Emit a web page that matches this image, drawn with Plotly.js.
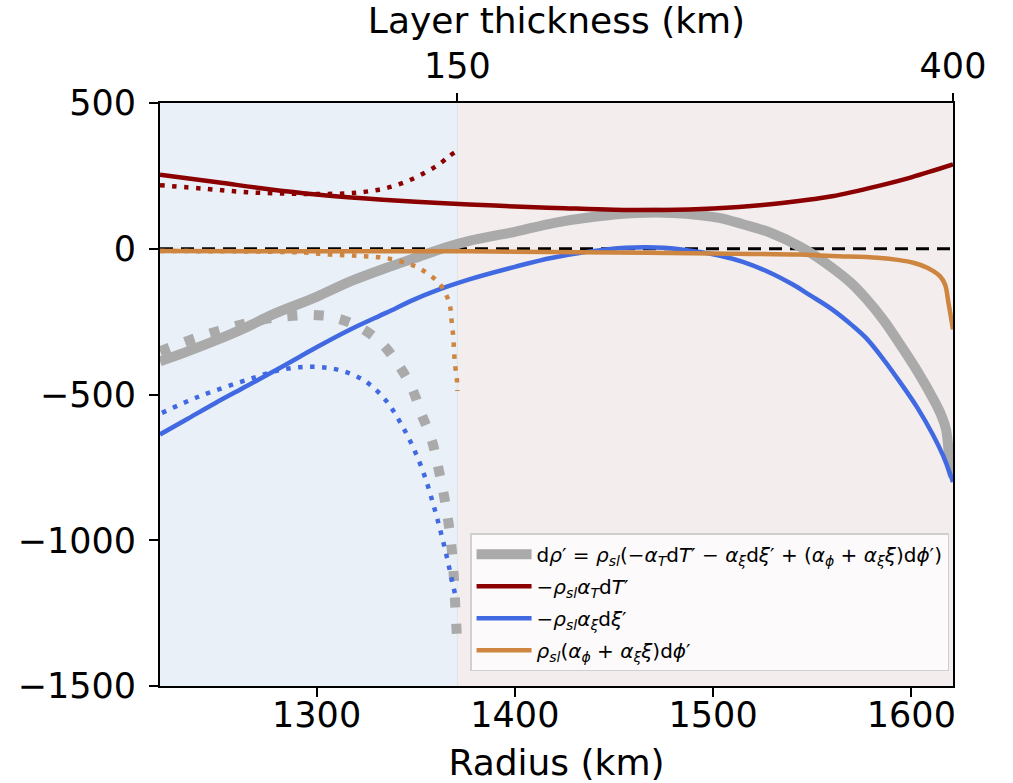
<!DOCTYPE html>
<html>
<head>
<meta charset="utf-8">
<script src="https://cdn.plot.ly/plotly-3.0.1.min.js"></script>
<style>html,body{margin:0;padding:0;background:#fff;}#chart{width:1013px;height:783px;}</style>
</head>
<body>
<div id="chart"></div>
<script>
// ---- data (radius in km, density anomaly contributions) ----
const innerRadius = 1221;
const layerEdge = 1371;      // radius at 150 km thickness
const outerRadius = 1621;

// total (thick gray), solid = 400 km layer
const grayR = [1221, 1233, 1250, 1265, 1278, 1300, 1317, 1335, 1350, 1365, 1377, 1390, 1400, 1420, 1440, 1461, 1480, 1503, 1515, 1529, 1545, 1560, 1570, 1577, 1586, 1594, 1603, 1611, 1615, 1617.5, 1619.5, 1621];
const grayV = [-386, -357, -312, -268, -225, -165, -112, -66, -31, 4, 27, 45, 58, 89, 110, 123, 123, 106, 84, 55, 3, -65, -120, -170, -245, -325, -420, -515, -570, -620, -740, -780];
// total, dotted = 150 km layer
const grayDotR = [1221, 1237, 1250, 1265, 1278, 1292, 1300, 1307, 1320, 1332, 1341, 1348, 1353, 1358, 1361.5, 1364.3, 1366.6, 1368.3, 1369.3, 1370, 1370.8];
const grayDotV = [-352, -311, -283, -255, -237, -228, -228, -233, -263, -319, -395, -477, -569, -655, -755, -849, -944, -1040, -1137, -1234, -1335];

// thermal term
const redR = [1221, 1250, 1275, 1300, 1325, 1350, 1377, 1400, 1425, 1450, 1475, 1500, 1525, 1549, 1560, 1583, 1600, 1621];
const redV = [254, 228, 205, 186, 172, 161, 152, 145, 139, 134, 133, 138, 150, 169, 180, 215, 245, 289];
const redDotR = [1221, 1245, 1265, 1285, 1300, 1315, 1325, 1335, 1345, 1355, 1362, 1367, 1370];
const redDotV = [218, 205, 194, 189, 188, 190, 196, 208, 230, 262, 291, 318, 332];

// compositional term
const blueR = [1221, 1235, 1249, 1265, 1283, 1300, 1317, 1335, 1350, 1365, 1377, 1400, 1419, 1445, 1466, 1485, 1503, 1515, 1529, 1540, 1549, 1560, 1570, 1577, 1586, 1594, 1603, 1611, 1616, 1621];
const blueV = [-637, -583, -529, -470, -403, -338, -277, -220, -172, -132, -105, -62, -31, -3, 5, -3, -23, -45, -83, -122, -160, -208, -262, -305, -380, -455, -545, -640, -710, -800];
const blueDotR = [1222, 1241, 1268, 1283, 1297, 1310, 1323.5, 1334.5, 1342.3, 1348.8, 1354.2, 1358.4, 1362.2, 1365.6, 1368.6, 1370.3];
const blueDotV = [-563, -506, -443, -414, -405, -414, -450, -517, -597, -683, -774, -866, -961, -1055, -1148, -1198];

// porosity term
const orangeR = [1221, 1300, 1377, 1400, 1450, 1500, 1544, 1560, 1583, 1594, 1601, 1608, 1614.4, 1617, 1618.7, 1621];
const orangeV = [-8, -9, -9, -10, -13, -16, -20, -25, -31, -39, -48, -65, -94, -123, -185, -277];
const orangeDotR = [1221, 1260, 1293, 1307, 1322, 1336, 1349.6, 1355.5, 1361.4, 1365.3, 1367.3, 1368.1, 1368.9, 1369.3, 1369.8, 1370.7, 1371];
const orangeDotV = [-8, -9, -13, -20, -25, -33, -60, -83, -115, -157, -197, -248, -300, -346, -397, -443, -488];

const xTicks = [1300, 1400, 1500, 1600];
const yTicks = [-1500, -1000, -500, 0, 500];
const thickTicks = [150, 400];

const legendNames = [
  'd<i>ρ</i>′ = <i>ρ</i><sub><i>sl</i></sub>(−<i>α</i><sub><i>T</i></sub>d<i>T</i>′ − <i>α</i><sub><i>ξ</i></sub>d<i>ξ</i>′ + (<i>α</i><sub><i>ϕ</i></sub> + <i>α</i><sub><i>ξ</i></sub><i>ξ</i>)d<i>ϕ</i>′)',
  '−<i>ρ</i><sub><i>sl</i></sub><i>α</i><sub><i>T</i></sub>d<i>T</i>′',
  '−<i>ρ</i><sub><i>sl</i></sub><i>α</i><sub><i>ξ</i></sub>d<i>ξ</i>′',
  '<i>ρ</i><sub><i>sl</i></sub>(<i>α</i><sub><i>ϕ</i></sub> + <i>α</i><sub><i>ξ</i></sub><i>ξ</i>)d<i>ϕ</i>′'
];

const GRAY = '#aaaaaa', RED = '#8b0000', BLUE = '#4169e1', ORANGE = '#cd853f';

function line(x, y, color, width, dash, name, show, group) {
  return {x: x, y: y, type: 'scatter', mode: 'lines', name: name || '', showlegend: !!show,
          legendgroup: group, hoverinfo: 'skip',
          line: {color: color, width: width, dash: dash || 'solid', shape: 'spline', smoothing: 1}};
}

const zeroLine = {x: [innerRadius, outerRadius], y: [0, 0], type: 'scatter', mode: 'lines', showlegend: false,
  hoverinfo: 'skip', line: {color: 'black', width: 3, dash: '13px,8px'}};

const data = [
  zeroLine,
  line(grayR, grayV, GRAY, 10, 'solid', legendNames[0], true, 'g1'),
  line(redR, redV, RED, 4.5, 'solid', legendNames[1], true, 'g2'),
  line(blueR, blueV, BLUE, 4.5, 'solid', legendNames[2], true, 'g3'),
  line(orangeR, orangeV, ORANGE, 4.5, 'solid', legendNames[3], true, 'g4'),
  line(grayDotR, grayDotV, GRAY, 10, '10px,16.5px', '', false, 'd1'),
  line(redDotR, redDotV, RED, 4.5, '4.5px,7.5px', '', false, 'd2'),
  line(blueDotR, blueDotV, BLUE, 4.5, '4.5px,7.5px', '', false, 'd3'),
  line(orangeDotR, orangeDotV, ORANGE, 4.5, '4.5px,7.5px', '', false, 'd4'),
  // top axis carrier (invisible)
  {x: [0, 400], y: [0, 0], xaxis: 'x2', type: 'scatter', mode: 'lines', showlegend: false, hoverinfo: 'skip',
   line: {color: 'rgba(0,0,0,0)', width: 0}}
];

const layout = {
  width: 1013, height: 783,
  margin: {l: 160, r: 60, t: 103, b: 97, pad: 0},
  paper_bgcolor: '#ffffff', plot_bgcolor: '#ffffff',
  font: {family: 'DejaVu Sans, sans-serif', size: 35, color: '#000'},
  showlegend: true,
  xaxis: {
    range: [innerRadius, outerRadius], tickvals: xTicks, ticks: 'outside', ticklen: 9, tickwidth: 2,
    tickcolor: '#000', showline: true, linewidth: 2, linecolor: '#000', mirror: true, showgrid: false,
    zeroline: false, automargin: false, ticklabelstandoff: -12,
    title: {text: 'Radius (km)', font: {size: 36}, standoff: 16}
  },
  xaxis2: {
    overlaying: 'x', side: 'top', anchor: 'y', range: [0, outerRadius - innerRadius], tickvals: thickTicks,
    ticks: 'outside', ticklen: 9, tickwidth: 2, tickcolor: '#000', showline: false, showgrid: false,
    zeroline: false, automargin: true, ticklabelstandoff: 1,
    title: {text: 'Layer thickness (km)', font: {size: 36}, standoff: 3}
  },
  yaxis: {
    range: [-1500, 500], tickvals: yTicks, ticks: 'outside', ticklen: 9, tickwidth: 2, tickcolor: '#000',
    showline: true, linewidth: 2, linecolor: '#000', mirror: true, showgrid: false, zeroline: false,
    automargin: false, ticklabelstandoff: 6
  },
  shapes: [
    {type: 'rect', xref: 'x', yref: 'paper', x0: innerRadius, x1: layerEdge, y0: 0, y1: 1,
     fillcolor: '#e9f0f7', line: {width: 0}, layer: 'below'},
    {type: 'rect', xref: 'x', yref: 'paper', x0: layerEdge, x1: outerRadius, y0: 0, y1: 1,
     fillcolor: '#f3eded', line: {width: 0}, layer: 'below'},
    {type: 'line', xref: 'x', yref: 'paper', x0: layerEdge, x1: layerEdge, y0: 0, y1: 1,
     line: {color: '#dfe4ea', width: 1}, layer: 'below'}
  ],
  legend: {
    x: 0.391, y: 0.262, xanchor: 'left', yanchor: 'top',
    bgcolor: 'rgba(252,251,251,0.95)', bordercolor: '#cfcfcf', borderwidth: 1.5,
    font: {family: 'DejaVu Sans, sans-serif', size: 20, color: '#000'},
    traceorder: 'grouped', tracegroupgap: 3, itemwidth: 55
  }
};

Plotly.newPlot('chart', data, layout, {staticPlot: true, displayModeBar: false});
</script>
</body>
</html>
